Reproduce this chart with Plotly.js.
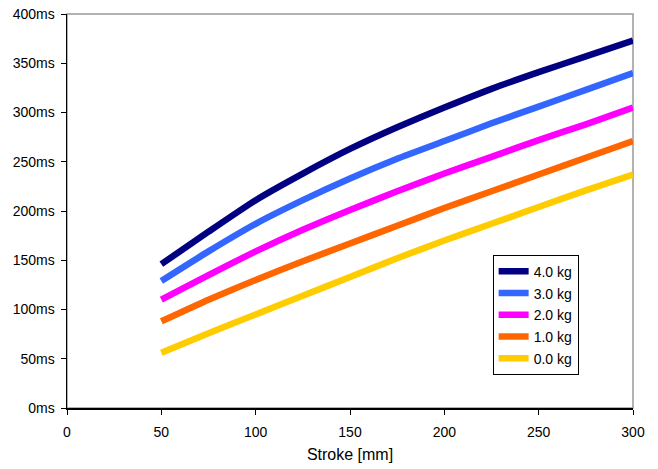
<!DOCTYPE html>
<html>
<head>
<meta charset="utf-8">
<script src="https://cdn.plot.ly/plotly-3.0.1.min.js"></script>
<style>html,body{margin:0;padding:0;background:#fff;}#chart{width:658px;height:469px;}</style>
</head>
<body>
<div id="chart"></div>
<script>
const stroke = [50, 75, 100, 125, 150, 175, 200, 225, 250, 275, 300];
const kg40 = [146, 179, 211, 238, 263, 285, 305, 324, 341, 357, 373];
const kg30 = [129, 159, 187, 211, 233, 253, 271, 289, 306, 323, 340];
const kg20 = [110, 135, 159, 181, 201, 220, 238, 255, 272, 288, 305];
const kg10 = [88, 110, 130, 149, 167, 185, 203, 220, 237, 254, 271];
const kg00 = [56, 76, 95, 114, 133, 152, 170, 187, 204, 221, 237];
const names = ['4.0 kg', '3.0 kg', '2.0 kg', '1.0 kg', '0.0 kg'];
const series = [kg40, kg30, kg20, kg10, kg00];
const colors = ['#000080', '#3366FF', '#FF00FF', '#FF6600', '#FFCC00'];

const traces = series.map((ys, i) => ({
  x: stroke, y: ys, name: names[i], type: 'scatter', mode: 'lines',
  line: {color: colors[i], width: 6.5, shape: 'spline', smoothing: 0.5},
  legendgroup: 'g' + i
}));

const font = {family: '"Liberation Sans", Arial, sans-serif', size: 14, color: '#000'};
const layout = {
  width: 658, height: 469,
  margin: {l: 67, r: 25, t: 14, b: 61},
  paper_bgcolor: '#fff', plot_bgcolor: '#fff',
  font: font,
  showlegend: true,
  legend: {
    x: 0.752, y: 0.389, xanchor: 'left', yanchor: 'top',
    bordercolor: '#000', borderwidth: 1, bgcolor: '#fff',
    font: font, tracegroupgap: 0.5, itemwidth: 30
  },
  xaxis: {
    range: [0, 300], dtick: 50, tick0: 0, showgrid: false, zeroline: false,
    showline: true, linecolor: '#000', linewidth: 1.5,
    ticks: 'outside', ticklen: 5, tickcolor: '#000', tickwidth: 1,
    ticklabelstandoff: 6,
    title: {text: 'Stroke [mm]', font: {family: font.family, size: 16, color: '#000'}, standoff: 9}
  },
  yaxis: {
    range: [0, 400], dtick: 50, tick0: 0, ticksuffix: 'ms', showgrid: false, zeroline: false,
    showline: true, linecolor: '#000', linewidth: 1.5,
    ticks: 'outside', ticklen: 5, tickcolor: '#000', tickwidth: 1,
    ticklabelstandoff: 3
  },
  shapes: [{
    type: 'rect', xref: 'paper', yref: 'paper', x0: 0, x1: 1, y0: 0, y1: 1,
    line: {color: '#999999', width: 1.5}, layer: 'below'
  }]
};
Plotly.newPlot('chart', traces, layout, {displayModeBar: false, staticPlot: true});
</script>
</body>
</html>
